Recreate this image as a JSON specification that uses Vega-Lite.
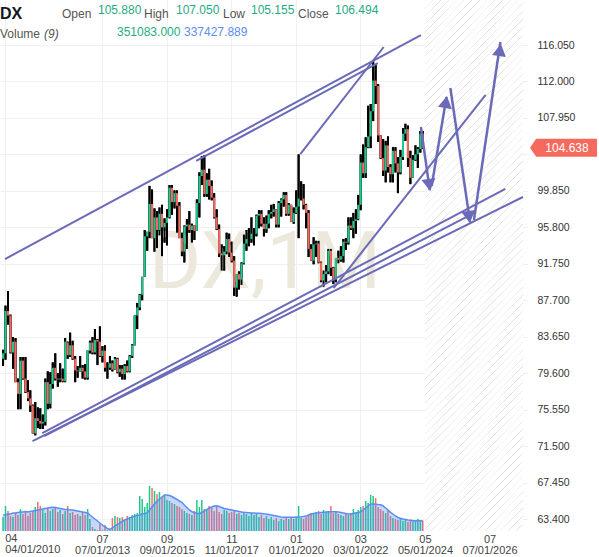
{
"$schema": "https://vega.github.io/schema/vega-lite/v6.json",
"width": 528, "height": 531,
"autosize": {"type": "none"},
"padding": {"left": 0, "top": 0, "right": 71, "bottom": 26},
"background": "white",
"config": {"view": {"stroke": null}, "font": "Liberation Sans"},
"datasets": {
"bars": [
{"d":"2010-04-01","o":81.2,"h":82.2,"l":80.4,"c":81.8,"v":472,"vm":539},
{"d":"2010-05-01","o":81.8,"h":87.1,"l":81.1,"c":86.5,"v":843,"vm":539},
{"d":"2010-06-01","o":86.5,"h":88.7,"l":85.0,"c":86.0,"v":674,"vm":573},
{"d":"2010-07-01","o":86.0,"h":86.1,"l":81.8,"c":81.9,"v":506,"vm":573},
{"d":"2010-08-01","o":81.9,"h":83.6,"l":80.1,"c":83.1,"v":472,"vm":607},
{"d":"2010-09-01","o":83.1,"h":83.5,"l":78.6,"c":78.6,"v":607,"vm":607},
{"d":"2010-10-01","o":78.6,"h":79.0,"l":75.6,"c":77.3,"v":539,"vm":623},
{"d":"2010-11-01","o":77.3,"h":81.4,"l":75.6,"c":81.0,"v":741,"vm":640},
{"d":"2010-12-01","o":81.0,"h":81.4,"l":78.9,"c":79.0,"v":573,"vm":640},
{"d":"2011-01-01","o":79.0,"h":81.4,"l":77.4,"c":77.5,"v":640,"vm":657},
{"d":"2011-02-01","o":77.5,"h":78.8,"l":76.5,"c":76.8,"v":506,"vm":640},
{"d":"2011-03-01","o":76.8,"h":77.7,"l":75.3,"c":76.0,"v":607,"vm":657},
{"d":"2011-04-01","o":76.0,"h":76.1,"l":72.9,"c":72.9,"v":674,"vm":674},
{"d":"2011-05-01","o":72.9,"h":76.4,"l":72.7,"c":74.6,"v":809,"vm":691},
{"d":"2011-06-01","o":74.6,"h":75.8,"l":73.5,"c":74.3,"v":977,"vm":708},
{"d":"2011-07-01","o":74.3,"h":75.7,"l":73.4,"c":74.0,"v":843,"vm":725},
{"d":"2011-08-01","o":74.0,"h":75.0,"l":73.4,"c":74.2,"v":708,"vm":741},
{"d":"2011-09-01","o":74.2,"h":79.0,"l":73.8,"c":78.6,"v":607,"vm":758},
{"d":"2011-10-01","o":78.6,"h":79.8,"l":75.6,"c":76.2,"v":775,"vm":775},
{"d":"2011-11-01","o":76.2,"h":79.7,"l":75.7,"c":78.4,"v":674,"vm":792},
{"d":"2011-12-01","o":78.4,"h":80.8,"l":77.9,"c":80.2,"v":741,"vm":799},
{"d":"2012-01-01","o":80.2,"h":81.8,"l":78.8,"c":79.0,"v":809,"vm":792},
{"d":"2012-02-01","o":79.0,"h":79.6,"l":78.1,"c":78.9,"v":640,"vm":775},
{"d":"2012-03-01","o":78.9,"h":80.7,"l":78.6,"c":79.0,"v":708,"vm":758},
{"d":"2012-04-01","o":79.0,"h":80.1,"l":78.6,"c":78.7,"v":573,"vm":741},
{"d":"2012-05-01","o":78.7,"h":83.5,"l":78.6,"c":83.1,"v":674,"vm":725},
{"d":"2012-06-01","o":83.0,"h":83.1,"l":81.2,"c":81.6,"v":843,"vm":725},
{"d":"2012-07-01","o":81.6,"h":84.1,"l":81.4,"c":82.7,"v":607,"vm":708},
{"d":"2012-08-01","o":82.7,"h":83.2,"l":81.1,"c":81.2,"v":640,"vm":708},
{"d":"2012-09-01","o":81.2,"h":81.5,"l":78.6,"c":79.9,"v":539,"vm":691},
{"d":"2012-10-01","o":79.9,"h":80.4,"l":79.1,"c":79.8,"v":573,"vm":674},
{"d":"2012-11-01","o":79.8,"h":81.5,"l":79.8,"c":80.2,"v":506,"vm":657},
{"d":"2012-12-01","o":80.2,"h":80.5,"l":79.0,"c":79.8,"v":640,"vm":640},
{"d":"2013-01-01","o":79.8,"h":80.6,"l":78.9,"c":79.1,"v":539,"vm":623},
{"d":"2013-02-01","o":79.1,"h":82.1,"l":78.9,"c":82.1,"v":741,"vm":607},
{"d":"2013-03-01","o":82.1,"h":83.2,"l":81.8,"c":83.0,"v":404,"vm":539},
{"d":"2013-04-01","o":83.0,"h":83.6,"l":81.7,"c":81.9,"v":135,"vm":472},
{"d":"2013-05-01","o":81.9,"h":84.5,"l":81.7,"c":83.3,"v":67,"vm":404},
{"d":"2013-06-01","o":83.3,"h":83.4,"l":80.5,"c":83.1,"v":34,"vm":337},
{"d":"2013-07-01","o":83.1,"h":84.8,"l":81.4,"c":81.5,"v":236,"vm":270},
{"d":"2013-08-01","o":81.5,"h":82.6,"l":80.8,"c":82.1,"v":34,"vm":202},
{"d":"2013-09-01","o":82.1,"h":82.7,"l":79.8,"c":80.2,"v":202,"vm":135},
{"d":"2013-10-01","o":80.2,"h":80.8,"l":79.0,"c":80.2,"v":34,"vm":84},
{"d":"2013-11-01","o":80.2,"h":81.5,"l":80.0,"c":80.7,"v":34,"vm":51},
{"d":"2013-12-01","o":80.7,"h":81.0,"l":79.8,"c":80.0,"v":438,"vm":101},
{"d":"2014-01-01","o":80.0,"h":81.4,"l":80.0,"c":81.2,"v":506,"vm":169},
{"d":"2014-02-01","o":81.2,"h":81.3,"l":79.6,"c":79.7,"v":472,"vm":219},
{"d":"2014-03-01","o":79.7,"h":80.5,"l":79.2,"c":80.1,"v":438,"vm":270},
{"d":"2014-04-01","o":80.1,"h":80.5,"l":78.9,"c":79.5,"v":472,"vm":320},
{"d":"2014-05-01","o":79.5,"h":80.6,"l":78.9,"c":80.4,"v":404,"vm":371},
{"d":"2014-06-01","o":80.4,"h":81.0,"l":79.7,"c":79.8,"v":506,"vm":404},
{"d":"2014-07-01","o":79.8,"h":81.6,"l":79.7,"c":81.5,"v":472,"vm":438},
{"d":"2014-08-01","o":81.5,"h":82.8,"l":81.3,"c":82.7,"v":539,"vm":472},
{"d":"2014-09-01","o":82.7,"h":86.0,"l":82.7,"c":86.0,"v":573,"vm":506},
{"d":"2014-10-01","o":86.0,"h":87.4,"l":84.5,"c":86.9,"v":607,"vm":522},
{"d":"2014-11-01","o":86.9,"h":88.4,"l":86.6,"c":88.3,"v":1180,"vm":539},
{"d":"2014-12-01","o":88.3,"h":90.3,"l":87.7,"c":90.3,"v":1078,"vm":573},
{"d":"2015-01-01","o":90.3,"h":95.5,"l":90.3,"c":94.8,"v":809,"vm":590},
{"d":"2015-02-01","o":94.8,"h":95.3,"l":93.2,"c":95.3,"v":944,"vm":607},
{"d":"2015-03-01","o":95.3,"h":100.4,"l":94.6,"c":98.4,"v":1517,"vm":708},
{"d":"2015-04-01","o":98.4,"h":100.0,"l":94.6,"c":94.6,"v":1449,"vm":809},
{"d":"2015-05-01","o":94.6,"h":97.9,"l":93.1,"c":96.9,"v":1348,"vm":910},
{"d":"2015-06-01","o":96.9,"h":97.6,"l":93.5,"c":95.5,"v":1247,"vm":1011},
{"d":"2015-07-01","o":95.5,"h":98.0,"l":94.9,"c":97.3,"v":1314,"vm":1078},
{"d":"2015-08-01","o":97.3,"h":98.3,"l":92.6,"c":95.8,"v":1146,"vm":1146},
{"d":"2015-09-01","o":95.8,"h":96.8,"l":94.1,"c":96.3,"v":1213,"vm":1213},
{"d":"2015-10-01","o":96.3,"h":97.8,"l":93.8,"c":96.9,"v":1045,"vm":1213},
{"d":"2015-11-01","o":96.9,"h":100.5,"l":96.8,"c":100.2,"v":1011,"vm":1196},
{"d":"2015-12-01","o":100.2,"h":100.5,"l":97.2,"c":98.6,"v":944,"vm":1163},
{"d":"2016-01-01","o":98.6,"h":99.9,"l":97.9,"c":99.6,"v":910,"vm":1112},
{"d":"2016-02-01","o":99.6,"h":99.9,"l":95.2,"c":98.2,"v":843,"vm":1062},
{"d":"2016-03-01","o":98.2,"h":98.6,"l":94.6,"c":94.6,"v":809,"vm":1011},
{"d":"2016-04-01","o":94.6,"h":95.2,"l":92.6,"c":93.1,"v":741,"vm":967},
{"d":"2016-05-01","o":93.1,"h":96.0,"l":91.9,"c":95.9,"v":674,"vm":876},
{"d":"2016-06-01","o":95.9,"h":96.7,"l":93.4,"c":96.1,"v":607,"vm":792},
{"d":"2016-07-01","o":96.1,"h":97.6,"l":95.2,"c":95.5,"v":573,"vm":708},
{"d":"2016-08-01","o":95.5,"h":96.2,"l":94.1,"c":96.0,"v":539,"vm":650},
{"d":"2016-09-01","o":96.0,"h":96.0,"l":94.4,"c":95.4,"v":674,"vm":623},
{"d":"2016-10-01","o":95.4,"h":98.9,"l":95.4,"c":98.5,"v":1045,"vm":600},
{"d":"2016-11-01","o":98.5,"h":101.9,"l":96.9,"c":101.5,"v":809,"vm":583},
{"d":"2016-12-01","o":101.5,"h":103.7,"l":100.5,"c":102.2,"v":1045,"vm":623},
{"d":"2017-01-01","o":102.2,"h":103.8,"l":99.2,"c":99.5,"v":741,"vm":674},
{"d":"2017-02-01","o":99.5,"h":101.8,"l":99.2,"c":101.1,"v":708,"vm":725},
{"d":"2017-03-01","o":101.1,"h":102.3,"l":98.9,"c":100.4,"v":843,"vm":775},
{"d":"2017-04-01","o":100.4,"h":101.0,"l":98.8,"c":99.1,"v":775,"vm":809},
{"d":"2017-05-01","o":99.1,"h":99.6,"l":96.8,"c":96.9,"v":674,"vm":843},
{"d":"2017-06-01","o":96.9,"h":97.8,"l":95.5,"c":95.6,"v":809,"vm":853},
{"d":"2017-07-01","o":95.6,"h":96.1,"l":92.5,"c":92.9,"v":640,"vm":826},
{"d":"2017-08-01","o":92.9,"h":93.9,"l":91.0,"c":92.7,"v":573,"vm":792},
{"d":"2017-09-01","o":92.7,"h":93.7,"l":91.0,"c":93.1,"v":708,"vm":758},
{"d":"2017-10-01","o":93.1,"h":95.2,"l":92.8,"c":94.5,"v":674,"vm":741},
{"d":"2017-11-01","o":94.5,"h":95.1,"l":92.5,"c":93.0,"v":607,"vm":725},
{"d":"2017-12-01","o":93.0,"h":94.2,"l":91.9,"c":92.1,"v":640,"vm":708},
{"d":"2018-01-01","o":92.1,"h":92.6,"l":88.2,"c":89.1,"v":674,"vm":691},
{"d":"2018-02-01","o":89.1,"h":90.6,"l":88.1,"c":90.6,"v":573,"vm":674},
{"d":"2018-03-01","o":90.6,"h":90.9,"l":88.9,"c":90.0,"v":607,"vm":657},
{"d":"2018-04-01","o":90.0,"h":91.9,"l":89.4,"c":91.8,"v":539,"vm":640},
{"d":"2018-05-01","o":91.8,"h":95.0,"l":91.7,"c":94.0,"v":640,"vm":630},
{"d":"2018-06-01","o":94.0,"h":95.5,"l":93.2,"c":94.5,"v":573,"vm":623},
{"d":"2018-07-01","o":94.5,"h":95.7,"l":93.7,"c":94.5,"v":506,"vm":617},
{"d":"2018-08-01","o":94.5,"h":96.9,"l":94.1,"c":95.1,"v":607,"vm":607},
{"d":"2018-09-01","o":95.1,"h":95.7,"l":93.8,"c":95.1,"v":539,"vm":607},
{"d":"2018-10-01","o":95.1,"h":97.2,"l":94.8,"c":97.1,"v":573,"vm":600},
{"d":"2018-11-01","o":97.1,"h":97.7,"l":95.7,"c":97.3,"v":472,"vm":596},
{"d":"2018-12-01","o":97.3,"h":97.7,"l":95.9,"c":96.2,"v":539,"vm":590},
{"d":"2019-01-01","o":96.2,"h":96.9,"l":94.8,"c":95.6,"v":438,"vm":580},
{"d":"2019-02-01","o":95.6,"h":97.1,"l":95.2,"c":96.2,"v":506,"vm":573},
{"d":"2019-03-01","o":96.2,"h":97.7,"l":95.7,"c":97.3,"v":404,"vm":556},
{"d":"2019-04-01","o":97.3,"h":98.3,"l":96.8,"c":97.5,"v":472,"vm":539},
{"d":"2019-05-01","o":97.5,"h":98.4,"l":97.0,"c":97.8,"v":371,"vm":522},
{"d":"2019-06-01","o":97.8,"h":97.8,"l":95.8,"c":96.1,"v":438,"vm":506},
{"d":"2019-07-01","o":96.1,"h":98.7,"l":95.8,"c":98.5,"v":337,"vm":489},
{"d":"2019-08-01","o":98.5,"h":99.0,"l":97.0,"c":98.9,"v":404,"vm":472},
{"d":"2019-09-01","o":98.9,"h":99.7,"l":98.1,"c":99.4,"v":371,"vm":462},
{"d":"2019-10-01","o":99.4,"h":99.7,"l":97.1,"c":97.3,"v":438,"vm":462},
{"d":"2019-11-01","o":97.3,"h":98.5,"l":97.1,"c":98.3,"v":404,"vm":462},
{"d":"2019-12-01","o":98.3,"h":98.3,"l":96.4,"c":96.4,"v":438,"vm":462},
{"d":"2020-01-01","o":96.4,"h":98.0,"l":96.2,"c":97.4,"v":404,"vm":462},
{"d":"2020-02-01","o":97.4,"h":99.9,"l":97.3,"c":98.1,"v":472,"vm":472},
{"d":"2020-03-01","o":98.1,"h":103.9,"l":94.6,"c":99.0,"v":843,"vm":472},
{"d":"2020-04-01","o":99.0,"h":100.9,"l":98.8,"c":99.0,"v":438,"vm":479},
{"d":"2020-05-01","o":99.0,"h":100.6,"l":97.8,"c":98.3,"v":404,"vm":489},
{"d":"2020-06-01","o":98.3,"h":98.4,"l":95.7,"c":97.4,"v":472,"vm":506},
{"d":"2020-07-01","o":97.4,"h":97.7,"l":92.5,"c":93.4,"v":539,"vm":539},
{"d":"2020-08-01","o":93.4,"h":93.9,"l":92.1,"c":92.1,"v":607,"vm":573},
{"d":"2020-09-01","o":92.1,"h":94.7,"l":91.7,"c":93.9,"v":573,"vm":590},
{"d":"2020-10-01","o":93.9,"h":94.3,"l":92.5,"c":94.0,"v":640,"vm":607},
{"d":"2020-11-01","o":94.0,"h":94.3,"l":91.8,"c":91.9,"v":674,"vm":613},
{"d":"2020-12-01","o":91.9,"h":92.0,"l":89.7,"c":89.9,"v":573,"vm":623},
{"d":"2021-01-01","o":89.9,"h":91.0,"l":89.2,"c":90.6,"v":708,"vm":634},
{"d":"2021-02-01","o":90.6,"h":91.6,"l":89.7,"c":90.9,"v":640,"vm":640},
{"d":"2021-03-01","o":90.9,"h":93.4,"l":90.6,"c":93.2,"v":674,"vm":647},
{"d":"2021-04-01","o":93.2,"h":93.4,"l":90.4,"c":91.3,"v":843,"vm":650},
{"d":"2021-05-01","o":91.3,"h":91.4,"l":89.5,"c":90.0,"v":607,"vm":650},
{"d":"2021-06-01","o":90.0,"h":92.4,"l":89.7,"c":92.4,"v":640,"vm":650},
{"d":"2021-07-01","o":92.4,"h":93.2,"l":91.8,"c":92.2,"v":573,"vm":640},
{"d":"2021-08-01","o":92.2,"h":93.7,"l":92.0,"c":92.6,"v":539,"vm":623},
{"d":"2021-09-01","o":92.6,"h":94.5,"l":91.9,"c":94.2,"v":506,"vm":607},
{"d":"2021-10-01","o":94.2,"h":94.6,"l":93.3,"c":94.1,"v":573,"vm":590},
{"d":"2021-11-01","o":94.1,"h":96.9,"l":93.9,"c":96.0,"v":539,"vm":573},
{"d":"2021-12-01","o":96.0,"h":96.9,"l":95.5,"c":95.7,"v":607,"vm":573},
{"d":"2022-01-01","o":95.7,"h":97.4,"l":94.6,"c":96.5,"v":741,"vm":590},
{"d":"2022-02-01","o":96.5,"h":97.8,"l":95.1,"c":96.7,"v":640,"vm":607},
{"d":"2022-03-01","o":96.7,"h":99.4,"l":96.6,"c":98.3,"v":708,"vm":623},
{"d":"2022-04-01","o":98.3,"h":103.9,"l":97.7,"c":103.0,"v":809,"vm":650},
{"d":"2022-05-01","o":103.0,"h":105.0,"l":101.3,"c":101.8,"v":843,"vm":708},
{"d":"2022-06-01","o":101.8,"h":105.8,"l":101.3,"c":104.7,"v":1011,"vm":775},
{"d":"2022-07-01","o":104.7,"h":109.3,"l":104.6,"c":105.9,"v":944,"vm":843},
{"d":"2022-08-01","o":105.9,"h":109.5,"l":104.6,"c":108.7,"v":1213,"vm":910},
{"d":"2022-09-01","o":108.7,"h":114.3,"l":107.6,"c":112.1,"v":1180,"vm":910},
{"d":"2022-10-01","o":112.1,"h":113.9,"l":109.5,"c":111.5,"v":1112,"vm":903},
{"d":"2022-11-01","o":111.5,"h":111.7,"l":105.3,"c":106.0,"v":809,"vm":893},
{"d":"2022-12-01","o":106.0,"h":106.0,"l":103.4,"c":103.5,"v":741,"vm":886},
{"d":"2023-01-01","o":103.5,"h":105.6,"l":101.5,"c":102.1,"v":674,"vm":843},
{"d":"2023-02-01","o":102.1,"h":105.4,"l":100.8,"c":104.9,"v":607,"vm":775},
{"d":"2023-03-01","o":104.9,"h":105.9,"l":101.9,"c":102.5,"v":708,"vm":708},
{"d":"2023-04-01","o":102.5,"h":102.8,"l":100.8,"c":101.7,"v":506,"vm":630},
{"d":"2023-05-01","o":101.7,"h":104.7,"l":100.8,"c":104.3,"v":438,"vm":573},
{"d":"2023-06-01","o":104.3,"h":104.7,"l":101.9,"c":102.9,"v":404,"vm":506},
{"d":"2023-07-01","o":102.9,"h":103.6,"l":99.6,"c":101.9,"v":371,"vm":455},
{"d":"2023-08-01","o":101.9,"h":104.4,"l":101.7,"c":103.6,"v":438,"vm":428},
{"d":"2023-09-01","o":103.6,"h":106.8,"l":103.3,"c":106.2,"v":337,"vm":404},
{"d":"2023-10-01","o":106.2,"h":107.3,"l":105.4,"c":106.7,"v":371,"vm":388},
{"d":"2023-11-01","o":106.7,"h":107.1,"l":102.5,"c":103.5,"v":303,"vm":371},
{"d":"2023-12-01","o":103.5,"h":104.3,"l":100.6,"c":101.3,"v":337,"vm":364},
{"d":"2024-01-01","o":101.3,"h":103.8,"l":101.3,"c":103.3,"v":371,"vm":354},
{"d":"2024-02-01","o":103.3,"h":104.9,"l":103.2,"c":103.9,"v":337,"vm":347},
{"d":"2024-03-01","o":103.9,"h":104.7,"l":102.4,"c":104.5,"v":404,"vm":347},
{"d":"2024-04-01","o":104.5,"h":106.5,"l":104.1,"c":106.2,"v":371,"vm":344},
{"d":"2024-05-01","o":106.2,"h":106.5,"l":104.5,"c":104.638,"v":351.083,"vm":337.428}
],
"lines": [
{"x1":"2010-03-29","p1":92.28,"x2":"2024-03-12","p2":117.16},
{"x1":"2016-08-28","p1":103.17,"x2":"2022-10-01","p2":114.05},
{"x1":"2020-02-24","p1":103.94,"x2":"2022-12-12","p2":115.83},
{"x1":"2021-04-07","p1":89.06,"x2":"2026-05-14","p2":110.5},
{"x1":"2011-03-01","p1":72.06,"x2":"2027-08-15","p2":99.17},
{"x1":"2011-06-29","p1":72.95,"x2":"2027-01-11","p2":100.06},
{"x1":"2011-07-23","p1":72.62,"x2":"2026-01-14","p2":97.5}
],
"arrows": [
{"x1":"2024-03-12","p1":106.94,"x2":"2024-06-28","p2":99.94},
{"x1":"2024-07-22","p1":100.39,"x2":"2025-01-19","p2":110.27},
{"x1":"2025-03-08","p1":111.27,"x2":"2025-11-04","p2":96.39},
{"x1":"2025-12-22","p1":96.61,"x2":"2026-11-11","p2":116.38}
]
},
"layer": [
{
"layer": [
{"data": {"name": "bars"},
 "mark": {"type": "rule", "color": "#000000", "strokeWidth": 2, "xOffset": -2.2, "clip": true},
 "encoding": {
  "x": {"field": "d", "type": "temporal", "scale": {"type":"utc","domain":[{"year":2010,"month":3,"date":29,"utc":true},{"year":2027,"month":8,"date":15,"utc":true}]},
   "axis": {"values": [{"year":2010,"month":4,"date":1,"utc":true},{"year":2013,"month":7,"date":1,"utc":true},{"year":2015,"month":9,"date":1,"utc":true},{"year":2017,"month":11,"date":1,"utc":true},{"year":2020,"month":1,"date":1,"utc":true},{"year":2022,"month":3,"date":1,"utc":true},{"year":2024,"month":5,"date":1,"utc":true},{"year":2026,"month":7,"date":1,"utc":true}],
    "title": null, "grid": true, "gridColor": "#f0f0f0", "ticks": false, "domain": false,
    "labelExpr": "datum.value < 1293840000000 ? '' : [utcFormat(datum.value, '%m'), utcFormat(datum.value, '%m/%d/%Y')]",
    "labelFontSize": 11, "labelColor": "#444444", "labelPadding": 2, "labelLineHeight": 11, "labelOverlap": false, "labelBound": false}},
  "y": {"field": "l", "type": "quantitative", "scale": {"domain":[62.07,121.05],"nice":false,"zero":false},
   "axis": {"orient": "right", "values": [63.4,67.45,71.5,75.55,79.6,83.65,87.7,91.75,95.8,99.85,103.9,107.95,112,116.05],
    "title": null, "grid": true, "gridColor": "#f0f0f0", "ticks": false, "domain": false,
    "labelExpr": "datum.value == 103.9 ? '' : format(datum.value, '.3f')",
    "labelFontSize": 10.5, "labelColor": "#333333", "labelPadding": 9, "labelAlign": "left", "labelBaseline": "middle"}},
  "y2": {"field": "h"}
 }},
{"data": {"values": [{}]},
 "mark": {"type": "rect", "fill": {"gradient": "linear", "x1": 0, "y1": 0, "x2": 0.2161, "y2": 1.1476, "stops": [
{"offset":0,"color":"#ffffff"},{"offset":0.001,"color":"#dddddd"},{"offset":0.002,"color":"#ffffff"},
{"offset":0.0125,"color":"#ffffff"},{"offset":0.0135,"color":"#dddddd"},{"offset":0.0145,"color":"#ffffff"},
{"offset":0.025,"color":"#ffffff"},{"offset":0.026,"color":"#dddddd"},{"offset":0.027,"color":"#ffffff"},
{"offset":0.0375,"color":"#ffffff"},{"offset":0.0385,"color":"#dddddd"},{"offset":0.0395,"color":"#ffffff"},
{"offset":0.05,"color":"#ffffff"},{"offset":0.051,"color":"#dddddd"},{"offset":0.052,"color":"#ffffff"},
{"offset":0.0625,"color":"#ffffff"},{"offset":0.0635,"color":"#dddddd"},{"offset":0.0645,"color":"#ffffff"},
{"offset":0.075,"color":"#ffffff"},{"offset":0.076,"color":"#dddddd"},{"offset":0.077,"color":"#ffffff"},
{"offset":0.0875,"color":"#ffffff"},{"offset":0.0885,"color":"#dddddd"},{"offset":0.0895,"color":"#ffffff"},
{"offset":0.1,"color":"#ffffff"},{"offset":0.101,"color":"#dddddd"},{"offset":0.102,"color":"#ffffff"},
{"offset":0.1125,"color":"#ffffff"},{"offset":0.1135,"color":"#dddddd"},{"offset":0.1145,"color":"#ffffff"},
{"offset":0.125,"color":"#ffffff"},{"offset":0.126,"color":"#dddddd"},{"offset":0.127,"color":"#ffffff"},
{"offset":0.1375,"color":"#ffffff"},{"offset":0.1385,"color":"#dddddd"},{"offset":0.1395,"color":"#ffffff"},
{"offset":0.15,"color":"#ffffff"},{"offset":0.151,"color":"#dddddd"},{"offset":0.152,"color":"#ffffff"},
{"offset":0.1625,"color":"#ffffff"},{"offset":0.1635,"color":"#dddddd"},{"offset":0.1645,"color":"#ffffff"},
{"offset":0.175,"color":"#ffffff"},{"offset":0.176,"color":"#dddddd"},{"offset":0.177,"color":"#ffffff"},
{"offset":0.1875,"color":"#ffffff"},{"offset":0.1885,"color":"#dddddd"},{"offset":0.1895,"color":"#ffffff"},
{"offset":0.2,"color":"#ffffff"},{"offset":0.201,"color":"#dddddd"},{"offset":0.202,"color":"#ffffff"},
{"offset":0.2125,"color":"#ffffff"},{"offset":0.2135,"color":"#dddddd"},{"offset":0.2145,"color":"#ffffff"},
{"offset":0.225,"color":"#ffffff"},{"offset":0.226,"color":"#dddddd"},{"offset":0.227,"color":"#ffffff"},
{"offset":0.2375,"color":"#ffffff"},{"offset":0.2385,"color":"#dddddd"},{"offset":0.2395,"color":"#ffffff"},
{"offset":0.25,"color":"#ffffff"},{"offset":0.251,"color":"#dddddd"},{"offset":0.252,"color":"#ffffff"},
{"offset":0.2625,"color":"#ffffff"},{"offset":0.2635,"color":"#dddddd"},{"offset":0.2645,"color":"#ffffff"},
{"offset":0.275,"color":"#ffffff"},{"offset":0.276,"color":"#dddddd"},{"offset":0.277,"color":"#ffffff"},
{"offset":0.2875,"color":"#ffffff"},{"offset":0.2885,"color":"#dddddd"},{"offset":0.2895,"color":"#ffffff"},
{"offset":0.3,"color":"#ffffff"},{"offset":0.301,"color":"#dddddd"},{"offset":0.302,"color":"#ffffff"},
{"offset":0.3125,"color":"#ffffff"},{"offset":0.3135,"color":"#dddddd"},{"offset":0.3145,"color":"#ffffff"},
{"offset":0.325,"color":"#ffffff"},{"offset":0.326,"color":"#dddddd"},{"offset":0.327,"color":"#ffffff"},
{"offset":0.3375,"color":"#ffffff"},{"offset":0.3385,"color":"#dddddd"},{"offset":0.3395,"color":"#ffffff"},
{"offset":0.35,"color":"#ffffff"},{"offset":0.351,"color":"#dddddd"},{"offset":0.352,"color":"#ffffff"},
{"offset":0.3625,"color":"#ffffff"},{"offset":0.3635,"color":"#dddddd"},{"offset":0.3645,"color":"#ffffff"},
{"offset":0.375,"color":"#ffffff"},{"offset":0.376,"color":"#dddddd"},{"offset":0.377,"color":"#ffffff"},
{"offset":0.3875,"color":"#ffffff"},{"offset":0.3885,"color":"#dddddd"},{"offset":0.3895,"color":"#ffffff"},
{"offset":0.4,"color":"#ffffff"},{"offset":0.401,"color":"#dddddd"},{"offset":0.402,"color":"#ffffff"},
{"offset":0.4125,"color":"#ffffff"},{"offset":0.4135,"color":"#dddddd"},{"offset":0.4145,"color":"#ffffff"},
{"offset":0.425,"color":"#ffffff"},{"offset":0.426,"color":"#dddddd"},{"offset":0.427,"color":"#ffffff"},
{"offset":0.4375,"color":"#ffffff"},{"offset":0.4385,"color":"#dddddd"},{"offset":0.4395,"color":"#ffffff"},
{"offset":0.45,"color":"#ffffff"},{"offset":0.451,"color":"#dddddd"},{"offset":0.452,"color":"#ffffff"},
{"offset":0.4625,"color":"#ffffff"},{"offset":0.4635,"color":"#dddddd"},{"offset":0.4645,"color":"#ffffff"},
{"offset":0.475,"color":"#ffffff"},{"offset":0.476,"color":"#dddddd"},{"offset":0.477,"color":"#ffffff"},
{"offset":0.4875,"color":"#ffffff"},{"offset":0.4885,"color":"#dddddd"},{"offset":0.4895,"color":"#ffffff"},
{"offset":0.5,"color":"#ffffff"},{"offset":0.501,"color":"#dddddd"},{"offset":0.502,"color":"#ffffff"},
{"offset":0.5125,"color":"#ffffff"},{"offset":0.5135,"color":"#dddddd"},{"offset":0.5145,"color":"#ffffff"},
{"offset":0.525,"color":"#ffffff"},{"offset":0.526,"color":"#dddddd"},{"offset":0.527,"color":"#ffffff"},
{"offset":0.5375,"color":"#ffffff"},{"offset":0.5385,"color":"#dddddd"},{"offset":0.5395,"color":"#ffffff"},
{"offset":0.55,"color":"#ffffff"},{"offset":0.551,"color":"#dddddd"},{"offset":0.552,"color":"#ffffff"},
{"offset":0.5625,"color":"#ffffff"},{"offset":0.5635,"color":"#dddddd"},{"offset":0.5645,"color":"#ffffff"},
{"offset":0.575,"color":"#ffffff"},{"offset":0.576,"color":"#dddddd"},{"offset":0.577,"color":"#ffffff"},
{"offset":0.5875,"color":"#ffffff"},{"offset":0.5885,"color":"#dddddd"},{"offset":0.5895,"color":"#ffffff"},
{"offset":0.6,"color":"#ffffff"},{"offset":0.601,"color":"#dddddd"},{"offset":0.602,"color":"#ffffff"},
{"offset":0.6125,"color":"#ffffff"},{"offset":0.6135,"color":"#dddddd"},{"offset":0.6145,"color":"#ffffff"},
{"offset":0.625,"color":"#ffffff"},{"offset":0.626,"color":"#dddddd"},{"offset":0.627,"color":"#ffffff"},
{"offset":0.6375,"color":"#ffffff"},{"offset":0.6385,"color":"#dddddd"},{"offset":0.6395,"color":"#ffffff"},
{"offset":0.65,"color":"#ffffff"},{"offset":0.651,"color":"#dddddd"},{"offset":0.652,"color":"#ffffff"},
{"offset":0.6625,"color":"#ffffff"},{"offset":0.6635,"color":"#dddddd"},{"offset":0.6645,"color":"#ffffff"},
{"offset":0.675,"color":"#ffffff"},{"offset":0.676,"color":"#dddddd"},{"offset":0.677,"color":"#ffffff"},
{"offset":0.6875,"color":"#ffffff"},{"offset":0.6885,"color":"#dddddd"},{"offset":0.6895,"color":"#ffffff"},
{"offset":0.7,"color":"#ffffff"},{"offset":0.701,"color":"#dddddd"},{"offset":0.702,"color":"#ffffff"},
{"offset":0.7125,"color":"#ffffff"},{"offset":0.7135,"color":"#dddddd"},{"offset":0.7145,"color":"#ffffff"},
{"offset":0.725,"color":"#ffffff"},{"offset":0.726,"color":"#dddddd"},{"offset":0.727,"color":"#ffffff"},
{"offset":0.7375,"color":"#ffffff"},{"offset":0.7385,"color":"#dddddd"},{"offset":0.7395,"color":"#ffffff"},
{"offset":0.75,"color":"#ffffff"},{"offset":0.751,"color":"#dddddd"},{"offset":0.752,"color":"#ffffff"},
{"offset":0.7625,"color":"#ffffff"},{"offset":0.7635,"color":"#dddddd"},{"offset":0.7645,"color":"#ffffff"},
{"offset":0.775,"color":"#ffffff"},{"offset":0.776,"color":"#dddddd"},{"offset":0.777,"color":"#ffffff"},
{"offset":0.7875,"color":"#ffffff"},{"offset":0.7885,"color":"#dddddd"},{"offset":0.7895,"color":"#ffffff"},
{"offset":0.8,"color":"#ffffff"},{"offset":0.801,"color":"#dddddd"},{"offset":0.802,"color":"#ffffff"},
{"offset":0.8125,"color":"#ffffff"},{"offset":0.8135,"color":"#dddddd"},{"offset":0.8145,"color":"#ffffff"},
{"offset":0.825,"color":"#ffffff"},{"offset":0.826,"color":"#dddddd"},{"offset":0.827,"color":"#ffffff"},
{"offset":0.8375,"color":"#ffffff"},{"offset":0.8385,"color":"#dddddd"},{"offset":0.8395,"color":"#ffffff"},
{"offset":0.85,"color":"#ffffff"},{"offset":0.851,"color":"#dddddd"},{"offset":0.852,"color":"#ffffff"},
{"offset":0.8625,"color":"#ffffff"},{"offset":0.8635,"color":"#dddddd"},{"offset":0.8645,"color":"#ffffff"},
{"offset":0.875,"color":"#ffffff"},{"offset":0.876,"color":"#dddddd"},{"offset":0.877,"color":"#ffffff"},
{"offset":0.8875,"color":"#ffffff"},{"offset":0.8885,"color":"#dddddd"},{"offset":0.8895,"color":"#ffffff"},
{"offset":0.9,"color":"#ffffff"},{"offset":0.901,"color":"#dddddd"},{"offset":0.902,"color":"#ffffff"},
{"offset":0.9125,"color":"#ffffff"},{"offset":0.9135,"color":"#dddddd"},{"offset":0.9145,"color":"#ffffff"},
{"offset":0.925,"color":"#ffffff"},{"offset":0.926,"color":"#dddddd"},{"offset":0.927,"color":"#ffffff"},
{"offset":0.9375,"color":"#ffffff"},{"offset":0.9385,"color":"#dddddd"},{"offset":0.9395,"color":"#ffffff"},
{"offset":0.95,"color":"#ffffff"},{"offset":0.951,"color":"#dddddd"},{"offset":0.952,"color":"#ffffff"},
{"offset":0.9625,"color":"#ffffff"},{"offset":0.9635,"color":"#dddddd"},{"offset":0.9645,"color":"#ffffff"},
{"offset":0.975,"color":"#ffffff"},{"offset":0.976,"color":"#dddddd"},{"offset":0.977,"color":"#ffffff"},
{"offset":0.9875,"color":"#ffffff"},{"offset":0.9885,"color":"#dddddd"},{"offset":0.9895,"color":"#ffffff"},
{"offset":1,"color":"#ffffff"}]}},
 "encoding": {
  "x": {"datum": {"year":2024,"month":5,"date":1,"utc":true}, "type": "temporal"},
  "x2": {"datum": {"year":2027,"month":8,"date":15,"utc":true}},
  "y": {"datum": 121.05, "type": "quantitative"},
  "y2": {"datum": 62.07}
 }},
{"data": {"values": [{}]},
 "mark": {"type": "text", "text": "DX,1M", "x": 265, "y": 288, "fontSize": 80, "font": "Roboto", "fill": "#ece8dc", "align": "center", "baseline": "alphabetic"}},
{"data": {"name": "bars"},
 "mark": {"type": "rule", "color": "#000000", "strokeWidth": 2, "xOffset": -2.2, "clip": true},
 "encoding": {
  "x": {"field": "d", "type": "temporal"},
  "y": {"field": "l", "type": "quantitative"},
  "y2": {"field": "h"}
 }},
{"data": {"name": "bars"},
 "mark": {"type": "bar", "width": 2, "xOffset": -2.2, "clip": true},
 "encoding": {
  "x": {"field": "d", "type": "temporal"},
  "y": {"field": "o", "type": "quantitative"},
  "y2": {"field": "c"},
  "color": {"condition": {"test": "datum.c >= datum.o", "value": "#1fc98a"}, "value": "#f7695f"}
 }},
{"data": {"name": "lines"},
 "mark": {"type": "rule", "color": "#6a6ab8", "strokeWidth": 2},
 "encoding": {
  "x": {"field": "x1", "type": "temporal"},
  "x2": {"field": "x2"},
  "y": {"field": "p1", "type": "quantitative"},
  "y2": {"field": "p2"}
 }},
{"data": {"name": "arrows"},
 "mark": {"type": "rule", "color": "#6a6ab8", "strokeWidth": 2.5},
 "encoding": {
  "x": {"field": "x1", "type": "temporal"},
  "x2": {"field": "x2"},
  "y": {"field": "p1", "type": "quantitative"},
  "y2": {"field": "p2"}
 }},
{"data": {"values": [{"d":"2024-06-22","p":100.5}]},
 "mark": {"type": "point", "shape": "triangle-up", "size": 196, "filled": true, "color": "#6a6ab8", "opacity": 1, "angle": 172},
 "encoding": {"x": {"field": "d", "type": "temporal"}, "y": {"field": "p", "type": "quantitative"}}},
{"data": {"values": [{"d":"2025-01-13","p":109.72}]},
 "mark": {"type": "point", "shape": "triangle-up", "size": 196, "filled": true, "color": "#6a6ab8", "opacity": 1, "angle": 9.6},
 "encoding": {"x": {"field": "d", "type": "temporal"}, "y": {"field": "p", "type": "quantitative"}}},
{"data": {"values": [{"d":"2025-10-23","p":96.95}]},
 "mark": {"type": "point", "shape": "triangle-up", "size": 196, "filled": true, "color": "#6a6ab8", "opacity": 1, "angle": 171.5},
 "encoding": {"x": {"field": "d", "type": "temporal"}, "y": {"field": "p", "type": "quantitative"}}},
{"data": {"values": [{"d":"2026-11-05","p":115.49}]},
 "mark": {"type": "point", "shape": "triangle-up", "size": 196, "filled": true, "color": "#6a6ab8", "opacity": 1, "angle": 8.6},
 "encoding": {"x": {"field": "d", "type": "temporal"}, "y": {"field": "p", "type": "quantitative"}}},
{"data": {"values": [{}]},
 "mark": {"type": "text", "text": "04", "y": 533, "align": "left", "baseline": "top", "fontSize": 11, "fill": "#444444"},
 "encoding": {"x": {"datum": {"year":2010,"month":4,"date":1,"utc":true}, "type": "temporal"}}},
{"data": {"values": [{}]},
 "mark": {"type": "text", "text": "04/01/2010", "y": 544, "align": "left", "baseline": "top", "fontSize": 11, "fill": "#444444"},
 "encoding": {"x": {"datum": {"year":2010,"month":4,"date":1,"utc":true}, "type": "temporal"}}},
{"data": {"values": [{}]}, "mark": {"type": "text", "text": "DX", "x": 0, "y": 14, "align": "left", "fontSize": 16, "fontWeight": "bold", "fill": "#131722"}},
{"data": {"values": [{}]}, "mark": {"type": "text", "text": "Open", "x": 62, "y": 13.5, "align": "left", "fontSize": 12, "fill": "#555555"}},
{"data": {"values": [{}]}, "mark": {"type": "text", "text": "105.880", "x": 98, "y": 10, "align": "left", "fontSize": 12, "fill": "#1fab83"}},
{"data": {"values": [{}]}, "mark": {"type": "text", "text": "High", "x": 144, "y": 13.5, "align": "left", "fontSize": 12, "fill": "#555555"}},
{"data": {"values": [{}]}, "mark": {"type": "text", "text": "107.050", "x": 176, "y": 10, "align": "left", "fontSize": 12, "fill": "#1fab83"}},
{"data": {"values": [{}]}, "mark": {"type": "text", "text": "Low", "x": 223, "y": 13.5, "align": "left", "fontSize": 12, "fill": "#555555"}},
{"data": {"values": [{}]}, "mark": {"type": "text", "text": "105.155", "x": 251, "y": 10, "align": "left", "fontSize": 12, "fill": "#1fab83"}},
{"data": {"values": [{}]}, "mark": {"type": "text", "text": "Close", "x": 298, "y": 13.5, "align": "left", "fontSize": 12, "fill": "#555555"}},
{"data": {"values": [{}]}, "mark": {"type": "text", "text": "106.494", "x": 335, "y": 10, "align": "left", "fontSize": 12, "fill": "#1fab83"}},
{"data": {"values": [{}]}, "mark": {"type": "text", "text": "Volume", "x": 0, "y": 34, "align": "left", "fontSize": 12, "fill": "#555555"}},
{"data": {"values": [{}]}, "mark": {"type": "text", "text": "(9)", "x": 44, "y": 34, "align": "left", "fontSize": 12, "fontStyle": "italic", "fill": "#555555"}},
{"data": {"values": [{}]}, "mark": {"type": "text", "text": "351083.000", "x": 117, "y": 32, "align": "left", "fontSize": 12, "fill": "#1fab83"}},
{"data": {"values": [{}]}, "mark": {"type": "text", "text": "337427.889", "x": 184, "y": 32, "align": "left", "fontSize": 12, "fill": "#5a8ef0"}},
{"data": {"values": [{"p": 104.638}]},
 "mark": {"type": "point", "shape": "M-1,0L-0.82,-0.265L0.97,-0.265L0.97,0.265L-0.82,0.265Z", "size": 4624, "filled": true, "color": "#f66a5e", "opacity": 1, "x": 564},
 "encoding": {"y": {"field": "p", "type": "quantitative"}}},
{"data": {"values": [{"p": 104.638}]},
 "mark": {"type": "text", "x": 567, "fontSize": 12, "fill": "#ffffff", "align": "center", "baseline": "middle"},
 "encoding": {"y": {"field": "p", "type": "quantitative"},
  "text": {"field": "p", "type": "quantitative", "format": ".3f"}}}
]
},
{
"data": {"name": "bars"},
"layer": [
{"mark": {"type": "bar", "width": 1.5, "xOffset": -2.2, "clip": true},
 "encoding": {
  "x": {"field": "d", "type": "temporal"},
  "y": {"field": "v", "type": "quantitative", "scale": {"domain":[0,17895],"nice":false,"zero":true}, "axis": null},
  "color": {"condition": {"test": "datum.c >= datum.o", "value": "#1fc98a"}, "value": "#f0716a"}
 }},
{"mark": {"type": "area", "color": "#5b8def", "opacity": 0.35, "xOffset": -2.2, "clip": true},
 "encoding": {
  "x": {"field": "d", "type": "temporal"},
  "y": {"field": "vm", "type": "quantitative", "scale": {"domain":[0,17895],"nice":false,"zero":true}, "axis": null}
 }},
{"mark": {"type": "line", "color": "#5b8def", "strokeWidth": 1.5, "xOffset": -2.2, "clip": true},
 "encoding": {
  "x": {"field": "d", "type": "temporal"},
  "y": {"field": "vm", "type": "quantitative", "scale": {"domain":[0,17895],"nice":false,"zero":true}, "axis": null}
 }}
]
}
],
"resolve": {"scale": {"y": "independent"}}
}
